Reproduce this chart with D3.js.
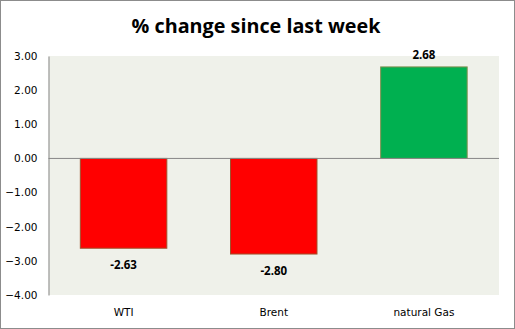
<!DOCTYPE html>
<html><head><meta charset="utf-8">
<script src="https://cdn.jsdelivr.net/npm/d3@7/dist/d3.min.js"></script>
<style>body{margin:0;background:#fff}svg{display:block}</style>
</head><body>
<svg id="c" width="515" height="329"></svg>
<script>
const categories = ["WTI", "Brent", "natural Gas"];
const values = [-2.63, -2.80, 2.68];
const yTicks = [3, 2, 1, 0, -1, -2, -3, -4];
const title = "% change since last week";

const svg = d3.select("#c");
const W = 515, H = 329;
const m = {left: 48.5, right: 16, top: 56, bottom: 34};
svg.append("rect").attr("x",0.5).attr("y",0.5).attr("width",W-1).attr("height",H-1)
  .attr("fill","#fff").attr("stroke","#8c8c8c");

const x = d3.scaleBand().domain(categories).range([m.left, W - m.right]).paddingInner(0.424).paddingOuter(0.212);
const y = d3.scaleLinear().domain([-4, 3]).range([H - m.bottom, m.top]);

svg.append("rect").attr("x", m.left).attr("y", y(3)).attr("width", W - m.right - m.left)
  .attr("height", y(-4) - y(3)).attr("fill", "#eff1ea");

// y axis
const ya = svg.append("g").attr("transform", `translate(${m.left},0)`)
  .call(d3.axisLeft(y).tickValues(yTicks).tickSize(0).tickPadding(11).tickFormat(d3.format(".2f")));
ya.select(".domain").attr("stroke", "#868686");
ya.selectAll("text").attr("font-family", "DejaVu Sans, Verdana, sans-serif").attr("font-size", 10.5).attr("fill", "#000");

svg.selectAll(".bar").data(values).join("rect")
  .attr("x", (d,i) => x(categories[i]))
  .attr("width", x.bandwidth())
  .attr("y", d => y(Math.max(0, d)))
  .attr("height", d => Math.abs(y(d) - y(0)))
  .attr("fill", d => d < 0 ? "#ff0000" : "#00b050")
  .attr("stroke", d => d < 0 ? "#a0522d" : "#7f8f4f").attr("stroke-width", 1);

svg.append("line").attr("x1", m.left).attr("x2", W - m.right).attr("y1", y(0)).attr("y2", y(0))
  .attr("stroke", "#868686");

svg.selectAll(".lbl").data(values).join("text")
  .attr("x", (d,i) => x(categories[i]) + x.bandwidth()/2)
  .attr("y", d => d < 0 ? y(d) + 21 : y(d) - 8)
  .attr("text-anchor", "middle").attr("font-family", "Open Sans, sans-serif").attr("font-weight", "bold")
  .attr("font-size", 11.5).attr("fill", "#000")
  .text(d => d.toFixed(2));

svg.selectAll(".cat").data(categories).join("text")
  .attr("x", d => x(d) + x.bandwidth()/2).attr("y", 316)
  .attr("text-anchor", "middle").attr("font-family", "DejaVu Sans, Verdana, sans-serif").attr("font-size", 10.5)
  .attr("fill", "#000").text(d => d);

const t = svg.append("text").attr("x", 256).attr("y", 33).attr("text-anchor", "middle")
  .attr("font-family", "Open Sans, sans-serif").attr("font-weight", "bold").attr("font-size", 20).attr("fill", "#000").text(title);
const len = t.node().getComputedTextLength();
t.attr("font-size", 20 * 249 / len);
</script>
</body></html>
